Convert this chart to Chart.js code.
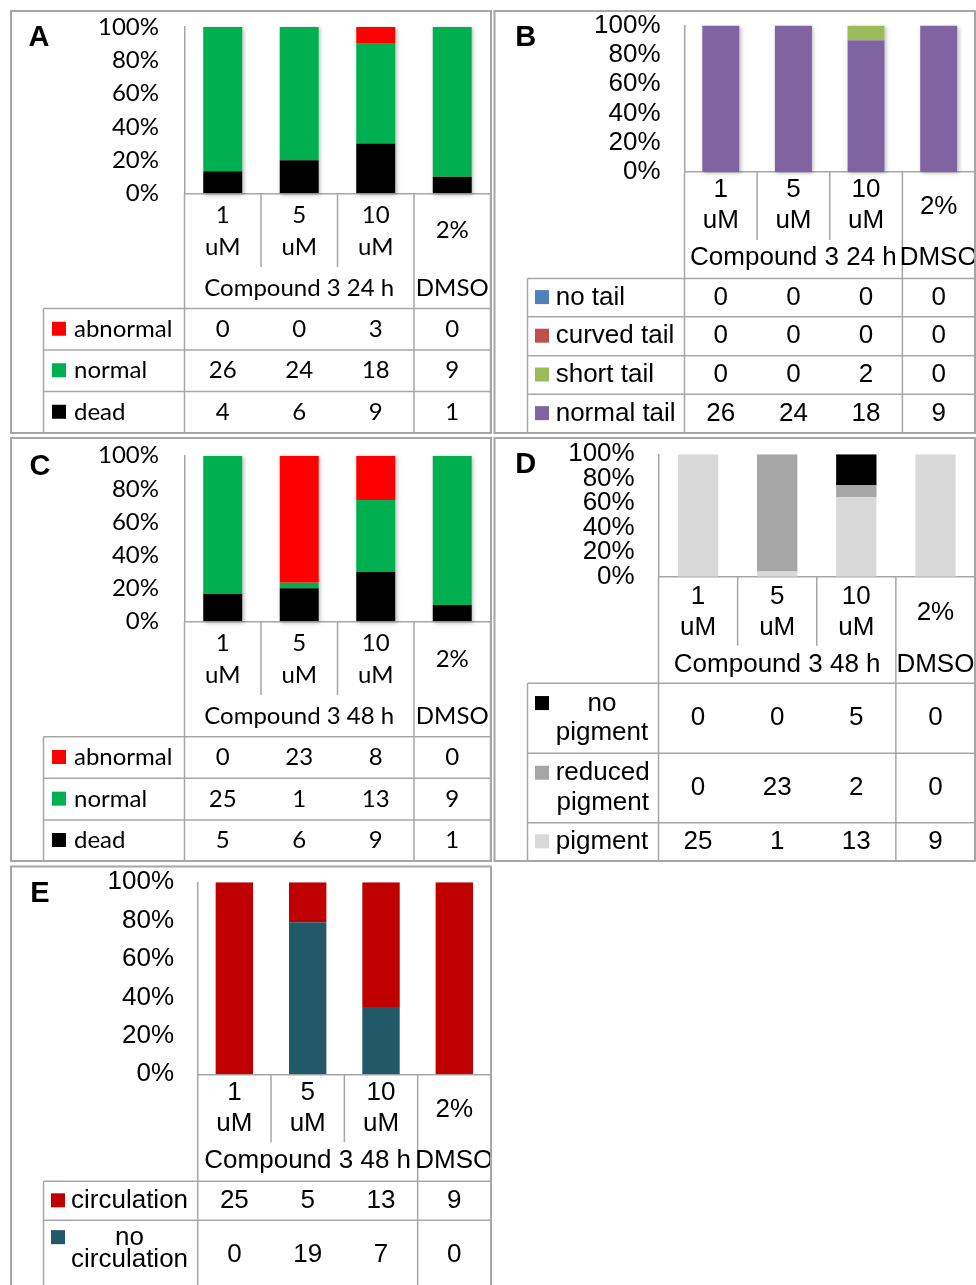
<!DOCTYPE html>
<html>
<head>
<meta charset="utf-8">
<script src="https://cdn.jsdelivr.net/npm/chart.js@4.4.1/dist/chart.umd.min.js"></script>
<style>
  html, body { margin: 0; padding: 0; background: #ffffff; }
  body { width: 976px; height: 1285px; position: relative; overflow: hidden; }
  canvas { position: absolute; }
</style>
</head>
<body>
<canvas id="panelA"></canvas>
<canvas id="panelB"></canvas>
<canvas id="panelC"></canvas>
<canvas id="panelD"></canvas>
<canvas id="panelE"></canvas>
<script>
// ---- shared categories (dose per column) and column groups ----
const doseLabels = ['1\nuM', '5\nuM', '10\nuM', '2%'];
const groups24h = [['Compound 3 24 h', 0, 2], ['DMSO', 3, 3]];
const groups48h = [['Compound 3 48 h', 0, 2], ['DMSO', 3, 3]];

// ---- A: outcome after 24 h (counts) ----
const aSeriesNames = ['abnormal', 'normal', 'dead'];
const aAbnormal = [0, 0, 3, 0];
const aNormal = [26, 24, 18, 9];
const aDead = [4, 6, 9, 1];

// ---- B: tail phenotype after 24 h (counts) ----
const bSeriesNames = ['no tail', 'curved tail', 'short tail', 'normal tail'];
const bNoTail = [0, 0, 0, 0];
const bCurvedTail = [0, 0, 0, 0];
const bShortTail = [0, 0, 2, 0];
const bNormalTail = [26, 24, 18, 9];

// ---- C: outcome after 48 h (counts) ----
const cSeriesNames = ['abnormal', 'normal', 'dead'];
const cAbnormal = [0, 23, 8, 0];
const cNormal = [25, 1, 13, 9];
const cDead = [5, 6, 9, 1];

// ---- D: pigmentation after 48 h (counts) ----
const dSeriesNames = ['no\npigment', 'reduced\npigment', 'pigment'];
const dNoPigment = [0, 0, 5, 0];
const dReducedPigment = [0, 23, 2, 0];
const dPigment = [25, 1, 13, 9];

// ---- E: blood circulation after 48 h (counts) ----
const eSeriesNames = ['circulation', 'no\ncirculation'];
const eCirculation = [25, 5, 13, 9];
const eNoCirculation = [0, 19, 7, 0];

const lineColor = '#a6a6a6';
const calibriLike = 'Lato, "Open Sans", sans-serif';
const arialLike = '"Liberation Sans", Arial, sans-serif';

// Page layout of each panel (page coordinates). Table rows are listed top-down,
// which is the top-down order of the stacked segments.
const panels = [
  {
    id: 'panelA', letter: 'A', letterPos: [39, 38],
    canvas: { x: 10, y: 10, w: 482, h: 424 }, frame: { l: 11, t: 11, r: 491, b: 433 },
    area: { l: 184.5, r: 490.5, t: 27, b: 193.5 },
    font: calibriLike, size: 24, tickPad: 25.5, shadow: true,
    cat: { y1: 215, y2: 247, mid: 230 }, divBottom: 267, groupY: 288, groups: groups24h,
    table: { top: 308.5, lines: [350, 391.5, 433], left: 43.5, markerX: 52, marker: 14, textX: 74, gap: 32, multiShift: 0 },
    names: aSeriesNames, values: [aAbnormal, aNormal, aDead],
    colors: ['#ff0000', '#00b050', '#000000']
  },
  {
    id: 'panelB', letter: 'B', letterPos: [525.7, 38],
    canvas: { x: 493, y: 10, w: 483, h: 424 }, frame: { l: 494.5, t: 11, r: 975, b: 433 },
    area: { l: 684.5, r: 975, t: 25.5, b: 172 },
    font: arialLike, size: 26, tickPad: 24, shadow: true,
    cat: { y1: 190, y2: 220.7, mid: 206.7 }, divBottom: 240, groupY: 258, groups: groups24h,
    table: { top: 278.5, lines: [316.7, 355.7, 394.3, 433], left: 527.5, markerX: 535, marker: 14, textX: 555.7, gap: 30, multiShift: 0 },
    names: bSeriesNames, values: [bNoTail, bCurvedTail, bShortTail, bNormalTail],
    colors: ['#4f81bd', '#c0504d', '#9bbb59', '#8064a2']
  },
  {
    id: 'panelC', letter: 'C', letterPos: [40, 466.7],
    canvas: { x: 10, y: 437, w: 482, h: 425 }, frame: { l: 11, t: 438, r: 491, b: 861 },
    area: { l: 184.5, r: 490.5, t: 455.7, b: 621.5 },
    font: calibriLike, size: 24, tickPad: 25.5, shadow: true,
    cat: { y1: 643.3, y2: 675, mid: 659.5 }, divBottom: 695, groupY: 716.7, groups: groups48h,
    table: { top: 736.7, lines: [778.3, 820, 861], left: 43.5, markerX: 52, marker: 14, textX: 74, gap: 32, multiShift: 0 },
    names: cSeriesNames, values: [cAbnormal, cNormal, cDead],
    colors: ['#ff0000', '#00b050', '#000000']
  },
  {
    id: 'panelD', letter: 'D', letterPos: [525.7, 465],
    canvas: { x: 493, y: 437, w: 483, h: 425 }, frame: { l: 494.5, t: 438, r: 975, b: 861 },
    area: { l: 658.5, r: 975, t: 454.3, b: 576.7 },
    font: arialLike, size: 26, tickPad: 23.8, shadow: false,
    cat: { y1: 596.7, y2: 627.7, mid: 613.3 }, divBottom: 645.7, groupY: 665, groups: groups48h,
    table: { top: 683.3, lines: [753.3, 822.7, 861], left: 527.5, markerX: 535, marker: 14, textX: 555.7, gap: 29.5, multiShift: 0 },
    names: dSeriesNames, values: [dNoPigment, dReducedPigment, dPigment],
    colors: ['#000000', '#a6a6a6', '#d9d9d9']
  },
  {
    id: 'panelE', letter: 'E', letterPos: [40, 893.7],
    canvas: { x: 10, y: 865, w: 482, h: 420 }, frame: { l: 11, t: 866.5, r: 491, b: 1300 },
    area: { l: 197.7, r: 491, t: 882.3, b: 1074.3 },
    font: arialLike, size: 26, tickPad: 23.7, shadow: false,
    cat: { y1: 1093, y2: 1123.7, mid: 1109.7 }, divBottom: 1142.3, groupY: 1161.3, groups: groups48h,
    table: { top: 1181.3, lines: [1220.3, 1289], left: 43.5, markerX: 51, marker: 14, textX: 71, gap: 22, multiShift: -6 },
    names: eSeriesNames, values: [eCirculation, eNoCirculation],
    colors: ['#c00000', '#215968']
  }
];

// Share of each series within its column, in percent (100% stacked bars)
function toPercent(seriesList) {
  const n = seriesList[0].length;
  const totals = [];
  for (let i = 0; i < n; i++) totals.push(seriesList.reduce((s, arr) => s + arr[i], 0));
  return seriesList.map(arr => arr.map((v, i) => (totals[i] ? v / totals[i] * 100 : 0)));
}

// Soft drop shadow behind each whole stacked column
const columnShadow = {
  id: 'columnShadow',
  beforeDatasetsDraw(chart) {
    if (!chart.$panel.shadow) return;
    const ctx = chart.ctx;
    const ys = chart.scales.y;
    const top = ys.getPixelForValue(100), bottom = ys.getPixelForValue(0);
    ctx.save();
    ctx.shadowColor = 'rgba(0,0,0,0.28)';
    ctx.shadowBlur = 4;
    ctx.shadowOffsetX = 1.5;
    ctx.shadowOffsetY = 1;
    ctx.fillStyle = '#ffffff';
    chart.getDatasetMeta(0).data.forEach(bar => {
      ctx.fillRect(bar.x - bar.width / 2, top, bar.width, bottom - top);
    });
    ctx.restore();
  }
};

// Spreadsheet-style data table under the plot: column headers, groups,
// legend keys and the raw counts, plus the panel frame and letter.
const dataTable = {
  id: 'dataTable',
  afterDraw(chart) {
    const p = chart.$panel;
    const ctx = chart.ctx;
    const ox = p.canvas.x, oy = p.canvas.y;
    const X = v => v - ox, Y = v => v - oy;
    const area = chart.chartArea;
    const xs = chart.scales.x;
    const n = doseLabels.length;
    const centers = doseLabels.map((_, i) => xs.getPixelForValue(i));
    const edges = [area.left];
    for (let i = 0; i < n - 1; i++) edges.push((centers[i] + centers[i + 1]) / 2);
    edges.push(area.right);
    const t = p.table;
    const tableTop = Y(t.top);
    const tableBottom = Y(t.lines[t.lines.length - 1]);
    const groupBreaks = p.groups.slice(0, -1).map(g => g[2] + 1);

    ctx.save();
    // grid lines
    ctx.strokeStyle = lineColor;
    ctx.lineWidth = 1.5;
    const seg = (x1, y1, x2, y2) => { ctx.beginPath(); ctx.moveTo(x1, y1); ctx.lineTo(x2, y2); ctx.stroke(); };
    edges.forEach((ex, i) => {
      const full = i === 0 || i === n || groupBreaks.includes(i);
      seg(ex, area.bottom, ex, full ? tableBottom : Y(p.divBottom));
    });
    seg(X(t.left), tableTop, area.right, tableTop);
    t.lines.forEach(ly => seg(X(t.left), Y(ly), area.right, Y(ly)));
    seg(X(t.left), tableTop, X(t.left), tableBottom);

    // column headers
    ctx.fillStyle = '#000000';
    ctx.font = p.size + 'px ' + p.font;
    ctx.textAlign = 'center';
    ctx.textBaseline = 'middle';
    doseLabels.forEach((lab, i) => {
      const parts = lab.split('\n');
      if (parts.length === 2) {
        ctx.fillText(parts[0], centers[i], Y(p.cat.y1));
        ctx.fillText(parts[1], centers[i], Y(p.cat.y2));
      } else {
        ctx.fillText(parts[0], centers[i], Y(p.cat.mid));
      }
    });
    // column groups
    p.groups.forEach(([text, from, to]) => {
      ctx.fillText(text, (edges[from] + edges[to + 1]) / 2, Y(p.groupY));
    });

    // legend rows with counts
    p.names.forEach((name, r) => {
      const rTop = r === 0 ? t.top : t.lines[r - 1];
      const rBottom = t.lines[r];
      const cy = Y((rTop + rBottom) / 2);
      p.values[r].forEach((v, j) => {
        ctx.textAlign = 'center';
        ctx.fillText(String(v), centers[j], cy);
      });
      const parts = name.split('\n');
      const k = parts.length;
      const firstMid = cy + (k > 1 ? t.multiShift : 0) - (k - 1) / 2 * t.gap;
      const maxW = Math.max(...parts.map(s => ctx.measureText(s).width));
      parts.forEach((s, i) => {
        ctx.textAlign = 'center';
        ctx.fillText(s, X(t.textX) + maxW / 2, firstMid + i * t.gap);
      });
      ctx.fillStyle = p.colors[r];
      ctx.fillRect(X(t.markerX), firstMid - t.marker / 2 - 0.5, t.marker, t.marker);
      ctx.fillStyle = '#000000';
    });

    // panel letter
    ctx.font = 'bold 29px "Liberation Sans", Arial, sans-serif';
    ctx.textAlign = 'center';
    ctx.fillText(p.letter, X(p.letterPos[0]), Y(p.letterPos[1]));

    // panel frame
    ctx.strokeStyle = lineColor;
    ctx.lineWidth = 2;
    ctx.strokeRect(X(p.frame.l), Y(p.frame.t), p.frame.r - p.frame.l, p.frame.b - p.frame.t);
    ctx.restore();
  }
};

panels.forEach(p => {
  const canvas = document.getElementById(p.id);
  canvas.width = p.canvas.w;
  canvas.height = p.canvas.h;
  canvas.style.left = p.canvas.x + 'px';
  canvas.style.top = p.canvas.y + 'px';

  const pct = toPercent(p.values);
  // bottom segment first: reverse the top-down table order
  const datasets = p.names.map((name, r) => ({
    label: name.replace('\n', ' '),
    data: pct[r],
    backgroundColor: p.colors[r],
    borderWidth: 0,
    barPercentage: 0.51,
    categoryPercentage: 1
  })).reverse();

  new Chart(canvas, {
    type: 'bar',
    data: { labels: doseLabels.map(s => s.replace('\n', ' ')), datasets },
    options: {
      responsive: false,
      animation: false,
      devicePixelRatio: 1,
      layout: {
        padding: {
          left: 0,
          top: p.area.t - p.canvas.y,
          right: p.canvas.x + p.canvas.w - p.area.r,
          bottom: p.canvas.y + p.canvas.h - p.area.b
        }
      },
      plugins: { legend: { display: false }, tooltip: { enabled: false } },
      scales: {
        x: {
          stacked: true,
          grid: { display: false, drawTicks: false },
          border: { display: true, color: lineColor, width: 1.5 },
          ticks: { display: false },
          afterFit: s => { s.height = 0; }
        },
        y: {
          stacked: true,
          min: 0,
          max: 100,
          grid: { display: false, drawTicks: false },
          border: { display: true, color: lineColor, width: 1.5 },
          ticks: {
            stepSize: 20,
            autoSkip: false,
            color: '#000000',
            padding: p.tickPad,
            font: { family: p.font, size: p.size, lineHeight: 1.1 },
            callback: v => v + '%'
          },
          afterFit: s => {
            s.width = p.area.l - p.canvas.x;
            // the plot's vertical extent is set by the layout padding alone
            s.paddingTop = 0;
            s.paddingBottom = 0;
          }
        }
      }
    },
    plugins: [
      { id: 'panelRef', beforeInit(c) { c.$panel = p; } },
      columnShadow,
      dataTable
    ]
  });
});
</script>
</body>
</html>
